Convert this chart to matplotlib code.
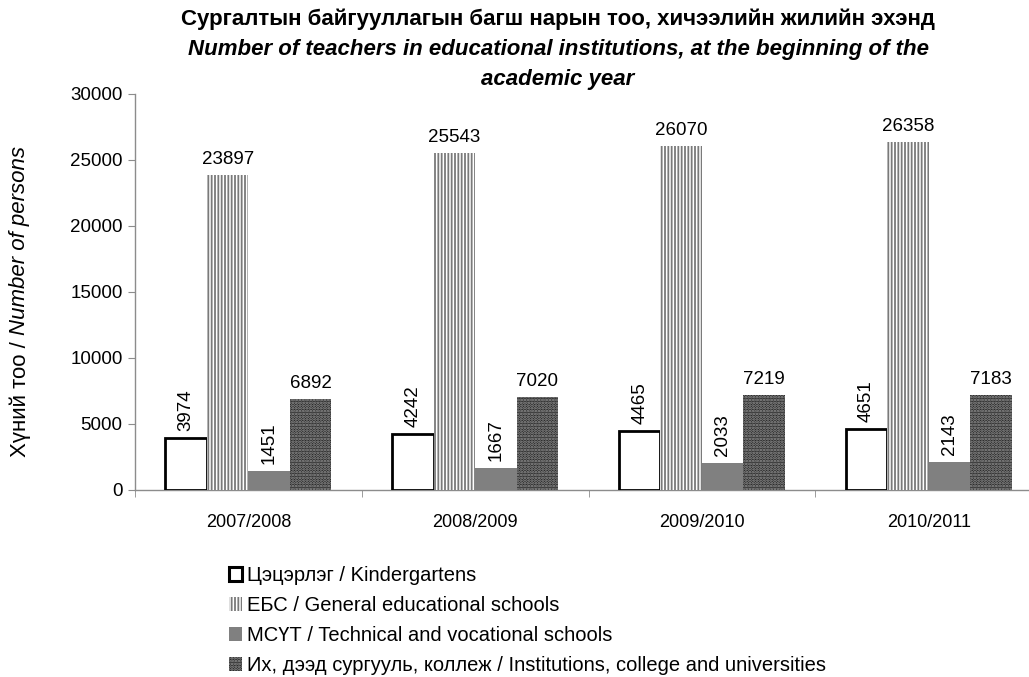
import matplotlib
matplotlib.use("Agg")
import matplotlib.pyplot as plt
from matplotlib.patches import Rectangle
import numpy as np

# ---- data ----
years = ["2007/2008", "2008/2009", "2009/2010", "2010/2011"]
kindergartens = [3974, 4242, 4465, 4651]
general_schools = [23897, 25543, 26070, 26358]
technical_schools = [1451, 1667, 2033, 2143]
universities = [6892, 7020, 7219, 7183]
series_labels = [
    "Цэцэрлэг / Kindergartens",
    "ЕБС / General educational schools",
    "МСҮТ / Technical and vocational schools",
    "Их, дээд сургууль, коллеж / Institutions, college and universities",
]
title_line1 = "Сургалтын байгууллагын багш нарын тоо, хичээлийн жилийн эхэнд"
title_line2 = "Number of teachers in educational institutions, at the beginning of the"
title_line3 = "academic year"
ylabel_upright = "Хүний тоо / "
ylabel_italic = "Number of persons"
yticks = [0, 5000, 10000, 15000, 20000, 25000, 30000]

plt.rcParams['font.family'] = ['Liberation Sans', 'DejaVu Sans']
plt.rcParams['hatch.linewidth'] = 1.3

W, H = 1029, 677
fig = plt.figure(figsize=(W / 100, H / 100), dpi=100)
ax_left, ax_right, ax_bottom, ax_top = 135, 1042, 490, 94
ax = fig.add_axes([ax_left / W, 1 - ax_bottom / H, (ax_right - ax_left) / W, (ax_bottom - ax_top) / H])

x = np.arange(len(years))
w = 0.183
fs = 13.5
gray = '#8c8c8c'
dot_face, dot_col = '#262626', '#9a9a9a'

# Kindergartens: white with thick black edge
b1 = ax.bar(x - 1.5 * w, kindergartens, w, facecolor='white', edgecolor='black', linewidth=2.0, zorder=3)
# General schools: vertical line hatch
b2 = ax.bar(x - 0.5 * w, general_schools, w, facecolor='white', edgecolor='#7a7a7a', hatch='|||||', linewidth=0, zorder=3)
# Technical: solid gray
b3 = ax.bar(x + 0.5 * w, technical_schools, w, facecolor='#808080', edgecolor='none', linewidth=0, zorder=3)
# Universities: dark dotted pattern
b4 = ax.bar(x + 1.5 * w, universities, w, facecolor=dot_face, edgecolor=dot_col, hatch='......', linewidth=0, zorder=3)

# data labels
for xi, v in zip(x - 1.5 * w, kindergartens):
    ax.annotate(f"{v}", (xi, v), xytext=(0, 5), textcoords='offset points', rotation=90,
                ha='center', va='bottom', fontsize=fs)
for xi, v in zip(x - 0.5 * w, general_schools):
    ax.annotate(f"{v}", (xi, v), xytext=(0, 5), textcoords='offset points',
                ha='center', va='bottom', fontsize=fs)
for xi, v in zip(x + 0.5 * w, technical_schools):
    ax.annotate(f"{v}", (xi, v), xytext=(0, 5), textcoords='offset points', rotation=90,
                ha='center', va='bottom', fontsize=fs)
for xi, v in zip(x + 1.5 * w, universities):
    ax.annotate(f"{v}", (xi, v), xytext=(0, 5), textcoords='offset points',
                ha='center', va='bottom', fontsize=fs)

ax.set_xlim(-0.5, len(years) - 0.5)
ax.set_ylim(0, 30000)
ax.set_yticks(yticks)
ax.set_yticklabels([str(t) for t in yticks], fontsize=fs)
ax.set_xticks(x)
ax.set_xticklabels(years, fontsize=13)
ax.set_xticks(np.arange(-0.5, len(years), 1.0), minor=True)
ax.tick_params(axis='x', which='major', length=0, pad=17)
ax.tick_params(axis='x', which='minor', length=5, color=gray, direction='out')
ax.tick_params(axis='y', length=5, color=gray, direction='out', pad=4)
for s in ['top', 'right']:
    ax.spines[s].set_visible(False)
for s in ['left', 'bottom']:
    ax.spines[s].set_color(gray)
    ax.spines[s].set_linewidth(1.0)
ax.set_facecolor('none')

# title
tx = 558 / W
tfs = 16
fig.text(tx, 1 - 19 / H, title_line1, ha='center', va='center', fontsize=tfs, fontweight='bold')
fig.text(tx, 1 - 49 / H, title_line2, ha='center', va='center', fontsize=tfs, fontweight='bold', style='italic')
fig.text(tx, 1 - 79 / H, title_line3, ha='center', va='center', fontsize=tfs, fontweight='bold', style='italic')

# y label (upright + italic parts)
fig.canvas.draw()
r = fig.canvas.get_renderer()
yfs = 16
t1 = fig.text(20 / W, 1 - 457 / H, ylabel_upright, rotation=90, ha='center', va='bottom', fontsize=yfs)
bb = t1.get_window_extent(renderer=r)
fig.text(20 / W, bb.y1 / H, ylabel_italic, rotation=90, ha='center', va='bottom', fontsize=yfs, style='italic')

# legend (proxy patches)
handles = [
    Rectangle((0, 0), 1, 1, facecolor='white', edgecolor='black', linewidth=2.2),
    Rectangle((0, 0), 1, 1, facecolor='white', edgecolor='#7a7a7a', hatch='|||||', linewidth=0),
    Rectangle((0, 0), 1, 1, facecolor='#808080', edgecolor='none', linewidth=0),
    Rectangle((0, 0), 1, 1, facecolor=dot_face, edgecolor=dot_col, hatch='......', linewidth=0),
]
fig.legend(handles, series_labels, loc='upper left', bbox_to_anchor=(229 / W, 1 - 566 / H),
           frameon=False, fontsize=14.5, handlelength=0.65, handleheight=0.65, handletextpad=0.25,
           labelspacing=0.55, borderaxespad=0, borderpad=0)

fig.savefig("out.png", dpi=100)
